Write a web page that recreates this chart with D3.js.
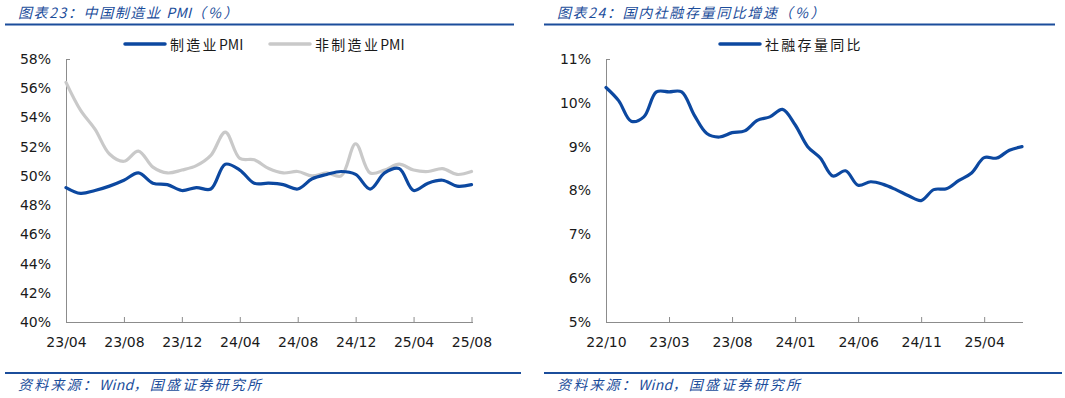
<!DOCTYPE html>
<html><head><meta charset="utf-8">
<script src="https://cdn.jsdelivr.net/npm/d3@7"></script>
<style>
html,body{margin:0;padding:0;background:#fff;}
svg{display:block;}
</style></head>
<body>
<svg id="chart" width="1065" height="398"></svg>
<script>
// ---------- data: chart 1 (PMI) ----------
const pmiMonths = ["23/04","23/05","23/06","23/07","23/08","23/09","23/10","23/11","23/12",
  "24/01","24/02","24/03","24/04","24/05","24/06","24/07","24/08","24/09","24/10","24/11","24/12",
  "25/01","25/02","25/03","25/04","25/05","25/06","25/07","25/08"];
const mfgPMI = [49.2,48.8,49.0,49.3,49.7,50.2,49.5,49.4,49.0,
  49.2,49.1,50.8,50.4,49.5,49.5,49.4,49.1,49.8,50.1,50.3,50.1,
  49.1,50.2,50.5,49.0,49.5,49.7,49.3,49.4];
const nonMfgPMI = [56.4,54.5,53.2,51.5,51.0,51.7,50.6,50.2,50.4,
  50.7,51.4,53.0,51.2,51.1,50.5,50.2,50.3,50.0,50.2,50.0,52.2,
  50.2,50.4,50.8,50.4,50.3,50.5,50.1,50.3];
const pmiTicksX = ["23/04","23/08","23/12","24/04","24/08","24/12","25/04","25/08"];
const pmiTicksY = [40,42,44,46,48,50,52,54,56,58];

// ---------- data: chart 2 (TSF growth) ----------
const tsfMonths = ["22/10","22/11","22/12","23/01","23/02","23/03","23/04","23/05","23/06","23/07","23/08","23/09","23/10","23/11","23/12",
  "24/01","24/02","24/03","24/04","24/05","24/06","24/07","24/08","24/09","24/10","24/11","24/12",
  "25/01","25/02","25/03","25/04","25/05","25/06","25/07"];
const tsfGrowth = [10.35,10.05,9.58,9.68,10.25,10.25,10.25,9.72,9.3,9.22,9.32,9.36,9.6,9.68,9.85,
  9.5,9.0,8.74,8.33,8.45,8.12,8.2,8.14,8.02,7.88,7.77,8.02,
  8.04,8.23,8.4,8.75,8.74,8.92,9.0];
const tsfTicksX = ["22/10","23/03","23/08","24/01","24/06","24/11","25/04"];
const tsfTicksY = [5,6,7,8,9,10,11];

// ---------- style ----------
const BLUE = "#0c48a0";
const GREY = "#c9c9c9";
const TITLE_BLUE = "#1b4d9b";
const AXIS = "#8c8c8c";
const numFont = "'DejaVu Sans', Verdana, sans-serif";
const cjkFont = "'Noto Sans CJK SC', sans-serif";

const svg = d3.select("#chart");

// text made of parts: [string, letterSpacing]
function richText(sel, parts) {
  parts.forEach(p => sel.append("tspan").attr("letter-spacing", p[1]).text(p[0]));
  return sel;
}

function header(x0, x1, titleParts) {
  const t = svg.append("text").attr("x", x0 + 13).attr("y", 18)
    .attr("font-family", cjkFont).attr("font-size", 14).attr("font-style", "italic")
    .attr("fill", TITLE_BLUE);
  richText(t, titleParts);
  svg.append("line").attr("x1", x0).attr("x2", x1).attr("y1", 24.5).attr("y2", 24.5)
    .attr("stroke", TITLE_BLUE).attr("stroke-width", 2);
  svg.append("line").attr("x1", x0).attr("x2", x1 + 7).attr("y1", 373).attr("y2", 373)
    .attr("stroke", TITLE_BLUE).attr("stroke-width", 2);
  const s = svg.append("text").attr("x", x0 + 13).attr("y", 390)
    .attr("font-family", cjkFont).attr("font-size", 14).attr("font-style", "italic")
    .attr("fill", TITLE_BLUE);
  richText(s, [["资料来源：", 2.2], ["Wind", 0.3], ["，国盛证券研究所", 2.2]]);
}

function drawChart(opt) {
  const x = d3.scalePoint().domain(opt.months).range(opt.xr);
  const y = d3.scaleLinear().domain(opt.yd).range([322, 59]);
  const g = svg.append("g");

  // y axis
  const ya = g.append("g").attr("transform", `translate(${opt.xr[0]},0)`)
    .call(d3.axisLeft(y).tickValues(opt.yt).tickSize(0).tickPadding(15)
      .tickFormat(d => d + "%"));
  ya.select(".domain").attr("stroke", AXIS);
  ya.selectAll("text").attr("font-family", numFont).attr("font-size", 14).attr("fill", "#1a1a1a");
  g.append("line").attr("x1", opt.xr[0]).attr("x2", opt.xr[0] + 4)
    .attr("y1", y(opt.yd[1]) + 0.5).attr("y2", y(opt.yd[1]) + 0.5).attr("stroke", AXIS);

  // x axis
  const xa = g.append("g").attr("transform", `translate(0,322)`)
    .call(d3.axisBottom(x).tickValues(opt.xt).tickSizeInner(-5).tickSizeOuter(0).tickPadding(15));
  xa.select(".domain").attr("stroke", AXIS).attr("d", `M${opt.xr[0]},0.5H${opt.xEnd}`);
  xa.selectAll(".tick line").attr("stroke", AXIS);
  xa.selectAll("text").attr("font-family", numFont).attr("font-size", 14).attr("fill", "#1a1a1a");

  const line = d3.line().x((d, i) => x(opt.months[i])).y(d => y(d)).curve(d3.curveCatmullRom.alpha(0.5));
  opt.series.forEach(s => {
    g.append("path").datum(s.values).attr("d", line)
      .attr("fill", "none").attr("stroke", s.color).attr("stroke-width", 3.2)
      .attr("stroke-linejoin", "round").attr("stroke-linecap", "round");
  });

  // legend
  opt.series.forEach(s => {
    g.append("line").attr("x1", s.lx).attr("x2", s.lx + 40).attr("y1", 44).attr("y2", 44)
      .attr("stroke", s.color).attr("stroke-width", 3.5).attr("stroke-linecap", "round");
    const t = g.append("text").attr("x", s.lx + 45).attr("y", 49.5)
      .attr("font-family", cjkFont).attr("font-size", 14).attr("fill", "#1a1a1a");
    richText(t, s.nameParts);
  });
}

header(5, 514, [["图表23：中国制造业 ", 1.6], ["PMI", 0.3], ["（%）", 2.5]]);
header(544, 1055, [["图表24：国内社融存量同比增速", 1.6], ["（%）", 2.5]]);

drawChart({
  months: pmiMonths, xr: [66, 471.5], xEnd: 473, yd: [40, 58], yt: pmiTicksY, xt: pmiTicksX,
  series: [
    {nameParts: [["非制造业", 2.3], ["PMI", 0]], values: nonMfgPMI, color: GREY, lx: 270},
    {nameParts: [["制造业", 2.3], ["PMI", 0]], values: mfgPMI, color: BLUE, lx: 125}
  ]
});

drawChart({
  months: tsfMonths, xr: [606, 1022], xEnd: 1023, yd: [5, 11], yt: tsfTicksY, xt: tsfTicksX,
  series: [
    {nameParts: [["社融存量同比", 2.3]], values: tsfGrowth, color: BLUE, lx: 720}
  ]
});
</script>
</body></html>
